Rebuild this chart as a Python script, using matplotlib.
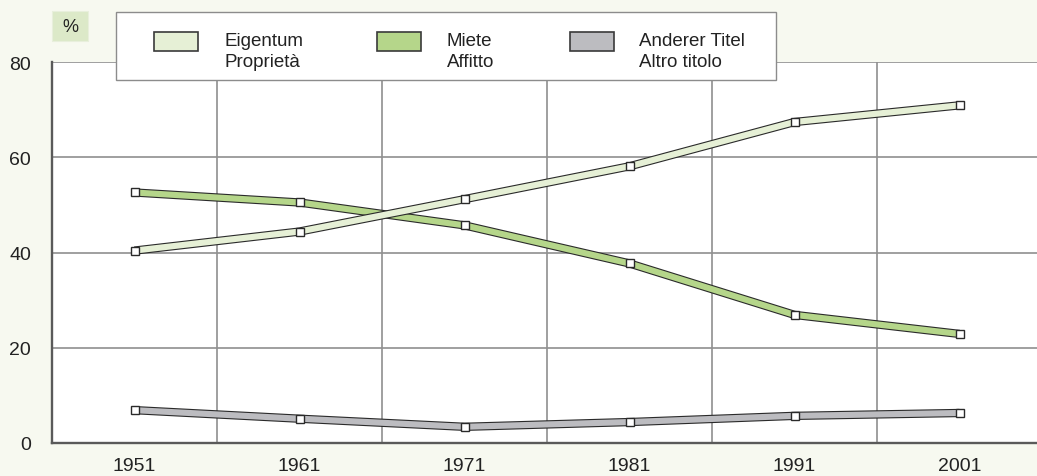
import matplotlib
matplotlib.use("Agg")
import matplotlib.pyplot as plt
from matplotlib.patches import Rectangle

plt.rcParams['font.family'] = ['Liberation Sans', 'DejaVu Sans']

years = ['1951', '1961', '1971', '1981', '1991', '2001']
eigentum = [40.4, 44.4, 51.2, 58.1, 67.4, 70.9]
miete = [52.6, 50.5, 45.7, 37.7, 26.9, 22.9]
anderer = [6.9, 5.1, 3.4, 4.4, 5.7, 6.3]
series_labels = ['Eigentum\nProprietà', 'Miete\nAffitto', 'Anderer Titel\nAltro titolo']
series_colors = ['#e6f0d6', '#b5d68a', '#bcbcc0']
yticks = [0, 20, 40, 60, 80]

W, H = 1037, 477
fig = plt.figure(figsize=(W / 100, H / 100), dpi=100, facecolor='#f7f9f0')
ax = fig.add_axes([52 / W, (H - 444) / H, 990 / W, 381 / H])
ax.set_facecolor('white')

x = list(range(len(years)))
ax.set_xlim(-0.5, len(years) - 0.5)
ax.set_ylim(0, 80)

# grid
for yv in yticks[1:]:
    ax.axhline(yv, color='#8f8f8f', lw=1.2, zorder=1)
for xv in [i + 0.5 for i in range(len(years) - 1)]:
    ax.axvline(xv, color='#8f8f8f', lw=1.2, zorder=1)

for s in ['top', 'right']:
    ax.spines[s].set_visible(False)
for s in ['left', 'bottom']:
    ax.spines[s].set_color('#5a5a5a')
    ax.spines[s].set_linewidth(1.7)

data = [eigentum, miete, anderer]
order = [2, 1, 0]
for k in order:
    vals = data[k]
    z = 3 + (2 - k)
    ax.plot(x, vals, color='#2a2a2a', lw=6.0, solid_capstyle='butt',
            solid_joinstyle='miter', zorder=z)
    ax.plot(x, vals, color=series_colors[k], lw=4.4, solid_capstyle='butt',
            solid_joinstyle='miter', zorder=z + 0.1)
    ax.plot(x, vals, ls='none', marker='s', ms=6, mfc='white', mec='#2a2a2a',
            mew=1.0, zorder=z + 0.2)

ax.set_xticks(x)
ax.set_xticklabels(years)
ax.set_yticks(yticks)
ax.tick_params(axis='both', length=0, labelsize=14, colors='#222222')
ax.tick_params(axis='y', pad=15)
ax.tick_params(axis='x', pad=10)

# % box
fig.patches.append(Rectangle((52 / W, 1 - 42 / H), 36 / W, 30 / H,
                             transform=fig.transFigure, facecolor='#dce9c8',
                             edgecolor='#e8efdc', lw=0.8, zorder=5))
fig.text(70 / W, 1 - 27 / H, '%', ha='center', va='center', fontsize=13,
         color='#222222', zorder=6)

# legend box
fig.patches.append(Rectangle((116 / W, 1 - 81 / H), 660 / W, 68 / H,
                             transform=fig.transFigure, facecolor='white',
                             edgecolor='#8c8c8c', lw=1.0, zorder=5))
patch_x = [154, 377, 570]
text_x = [224, 447, 639]
for k in range(3):
    fig.patches.append(Rectangle((patch_x[k] / W, 1 - 52 / H), 44 / W, 19 / H,
                                 transform=fig.transFigure,
                                 facecolor=series_colors[k],
                                 edgecolor='#3a3a3a', lw=1.2, zorder=6))
    fig.text(text_x[k] / W, 1 - 52 / H, series_labels[k], ha='left',
             va='center', fontsize=13.5, color='#222222', linespacing=1.3,
             zorder=7)

fig.savefig('out.png', dpi=100, facecolor=fig.get_facecolor())
